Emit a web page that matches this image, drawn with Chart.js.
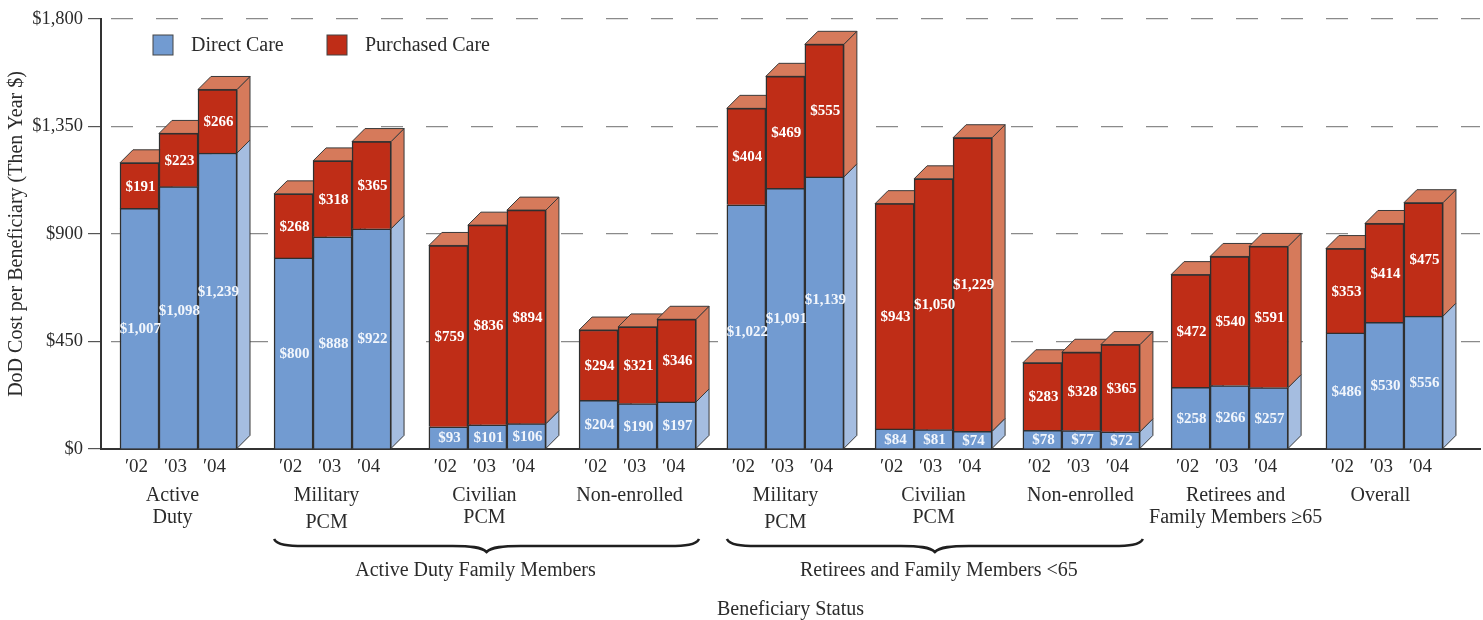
<!DOCTYPE html>
<html>
<head>
<meta charset="utf-8">
<title>DoD Cost per Beneficiary</title>
<script src="https://cdn.jsdelivr.net/npm/chart.js@4/dist/chart.umd.min.js"></script>
<style>
    html, body { margin: 0; padding: 0; background: #fff; }
    canvas { display: block; }
</style>
</head>
<body>
<canvas id="costChart" width="1483" height="620"></canvas>
<script>
// Values, three years per beneficiary group
const years = ['\u203202', '\u203203', '\u203204'];
const groupNames = [
    ['Active', 'Duty'],
    ['Military', 'PCM'],
    ['Civilian', 'PCM'],
    ['Non-enrolled'],
    ['Military', 'PCM'],
    ['Civilian', 'PCM'],
    ['Non-enrolled'],
    ['Retirees and', 'Family Members \u226565'],
    ['Overall']
];
const directCare = [1007, 1098, 1239, 800, 888, 922, 93, 101, 106, 204, 190, 197, 1022, 1091, 1139, 84, 81, 74, 78, 77, 72, 258, 266, 257, 486, 530, 556];
const purchasedCare = [191, 223, 266, 268, 318, 365, 759, 836, 894, 294, 321, 346, 404, 469, 555, 943, 1050, 1229, 283, 328, 365, 472, 540, 591, 353, 414, 475];
// Empty space after each group, measured in bar widths
const groupGaps = [0.95, 0.97, 0.85, 0.79, 0.8, 0.79, 0.8, 0.97];
const yTicks = [0, 450, 900, 1350, 1800];
const braces = [
    { label: 'Active Duty Family Members', from: 1, to: 3, labelShift: -11 },
    { label: 'Retirees and Family Members <65', from: 4, to: 6, labelShift: 4 }
];

const SERIF = '"Liberation Serif", serif';
const INK = '#2b2b2b';
const DEPTH = 13;
// The source hand-placed some text: pixels off the centred position
const groupNameShift = [-6, -6, -3, -8, 0, 0, -1, 6, -4];
const directLabelShift = { 1: -7, 2: -10, 12: 4, 14: -14 };

// Bar centres on the linear x axis: one unit per bar plus the group gaps
const barX = [];
let cursor = 0;
directCare.forEach((v, i) => {
    barX.push(cursor);
    cursor += 1;
    if (i % 3 === 2 && groupGaps[(i - 2) / 3] !== undefined) cursor += groupGaps[(i - 2) / 3];
});

const pairUp = values => values.map((y, i) => ({ x: barX[i], y: y }));

function face(ctx, points, fill) {
    ctx.beginPath();
    points.forEach((p, i) => (i ? ctx.lineTo(p[0], p[1]) : ctx.moveTo(p[0], p[1])));
    ctx.closePath();
    ctx.fillStyle = fill;
    ctx.fill();
    ctx.lineWidth = 1;
    ctx.strokeStyle = '#3a3a3a';
    ctx.stroke();
}

// Side and top faces behind the library's bars
const depthFaces = {
    id: 'depthFaces',
    beforeDatasetsDraw(chart) {
        const ctx = chart.ctx;
        const blue = chart.getDatasetMeta(0).data;
        const red = chart.getDatasetMeta(1).data;
        ctx.save();
        blue.forEach((b, i) => {
            const r = red[i];
            const right = b.x + b.width / 2;
            const left = b.x - b.width / 2;
            face(ctx, [[right, b.base], [right + DEPTH, b.base - DEPTH], [right + DEPTH, b.y - DEPTH], [right, b.y]], '#a5bde0');
            face(ctx, [[right, b.y], [right + DEPTH, b.y - DEPTH], [right + DEPTH, r.y - DEPTH], [right, r.y]], '#d67a5b');
            face(ctx, [[left, r.y], [left + DEPTH, r.y - DEPTH], [right + DEPTH, r.y - DEPTH], [right, r.y]], '#d67a5b');
        });
        ctx.restore();
    }
};

const valueLabels = {
    id: 'valueLabels',
    afterDatasetsDraw(chart) {
        const ctx = chart.ctx;
        ctx.save();
        ctx.textAlign = 'center';
        ctx.textBaseline = 'middle';
        ctx.font = 'bold 15px ' + SERIF;
        chart.data.datasets.forEach((ds, d) => {
            ctx.fillStyle = d === 0 ? '#f2f6fc' : '#ffffff';
            chart.getDatasetMeta(d).data.forEach((bar, i) => {
                const nudge = d === 0 ? (directLabelShift[i] || 0) : 0;
                ctx.fillText('$' + ds.data[i].y.toLocaleString('en-US'), bar.x + 1, (bar.y + bar.base) / 2 + nudge + 1);
            });
        });
        ctx.restore();
    }
};

function drawBrace(ctx, x0, x1, y) {
    const mid = (x0 + x1) / 2;
    ctx.beginPath();
    ctx.moveTo(x0, y);
    ctx.bezierCurveTo(x0 + 3, y + 6, x0 + 14, y + 7, x0 + 30, y + 7);
    ctx.lineTo(mid - 34, y + 7);
    ctx.bezierCurveTo(mid - 16, y + 7, mid - 5, y + 8, mid, y + 13);
    ctx.bezierCurveTo(mid + 5, y + 8, mid + 16, y + 7, mid + 34, y + 7);
    ctx.lineTo(x1 - 30, y + 7);
    ctx.bezierCurveTo(x1 - 14, y + 7, x1 - 3, y + 6, x1, y);
    ctx.lineWidth = 2.6;
    ctx.strokeStyle = '#1f1f1f';
    ctx.stroke();
}

// Group names, braces and the legend keys
const annotations = {
    id: 'annotations',
    afterDraw(chart) {
        const ctx = chart.ctx;
        const x = chart.scales.x;
        const unit = x.getPixelForValue(1) - x.getPixelForValue(0);
        ctx.save();
        ctx.fillStyle = INK;
        ctx.textBaseline = 'middle';
        ctx.textAlign = 'center';
        ctx.font = '20px ' + SERIF;

        groupNames.forEach((lines, g) => {
            const cx = x.getPixelForValue(barX[g * 3 + 1]) + groupNameShift[g];
            // the two Military PCM labels sit looser in the source
            const leading = lines[0] === 'Military' ? 27 : 22;
            lines.forEach((line, l) => ctx.fillText(line, cx, 496 + l * leading));
        });

        braces.forEach(b => {
            const x0 = x.getPixelForValue(barX[b.from * 3]) - unit / 2;
            const x1 = x.getPixelForValue(barX[b.to * 3 + 2]) + unit / 2 + 3;
            drawBrace(ctx, x0, x1, 539);
            ctx.fillStyle = INK;
            ctx.fillText(b.label, (x0 + x1) / 2 + b.labelShift, 571);
        });

        ctx.textAlign = 'left';
        let keyX = 153;
        chart.data.datasets.forEach(ds => {
            ctx.fillStyle = ds.backgroundColor;
            ctx.fillRect(keyX, 35, 20, 20);
            ctx.lineWidth = 1;
            ctx.strokeStyle = '#444';
            ctx.strokeRect(keyX, 35, 20, 20);
            ctx.fillStyle = INK;
            ctx.fillText(ds.label, keyX + 38, 46);
            keyX += 174;
        });
        ctx.restore();
    }
};

new Chart(document.getElementById('costChart'), {
    type: 'bar',
    data: {
        datasets: [
            { label: 'Direct Care', data: pairUp(directCare), backgroundColor: '#729bd1', borderColor: '#2f2f2f', borderWidth: 1.5 },
            { label: 'Purchased Care', data: pairUp(purchasedCare), backgroundColor: '#bf2d17', borderColor: '#2f2f2f', borderWidth: 1.5 }
        ]
    },
    plugins: [depthFaces, valueLabels, annotations],
    options: {
        responsive: false,
        animation: false,
        layout: { padding: { top: 19, right: 3, left: 0, bottom: 0 } },
        barPercentage: 1,
        categoryPercentage: 1,
        plugins: { legend: { display: false }, tooltip: { enabled: false } },
        scales: {
            x: {
                type: 'linear',
                stacked: true,
                offset: false,
                min: -0.987,
                max: 34.37,
                afterFit(scale) { scale.height = 171; },
                afterBuildTicks(scale) { scale.ticks = barX.map(v => ({ value: v })); },
                grid: { display: false, offset: false },
                border: { color: '#333', width: 2 },
                ticks: {
                    autoSkip: false,
                    maxRotation: 0,
                    padding: -1,
                    labelOffset: -3,
                    color: INK,
                    font: { family: SERIF, size: 19 },
                    callback(value, index) { return years[index % 3]; }
                },
                title: {
                    display: true,
                    text: 'Beneficiary Status',
                    color: INK,
                    font: { family: SERIF, size: 20 },
                    padding: { top: 0, bottom: -2 }
                }
            },
            y: {
                stacked: true,
                min: 0,
                max: 1800,
                afterFit(scale) { scale.width = 101; },
                afterBuildTicks(scale) { scale.ticks = yTicks.map(v => ({ value: v })); },
                grid: {
                    color: '#8a8a8a',
                    lineWidth: 1.2,
                    tickLength: 13,
                    tickColor: '#555',
                    tickBorderDash: []
                },
                border: { color: '#333', width: 2, dash: [22, 23], dashOffset: 36 },
                ticks: {
                    padding: 5,
                    color: INK,
                    font: { family: SERIF, size: 18.5 },
                    callback(value) { return '$' + value.toLocaleString('en-US'); }
                },
                title: {
                    display: true,
                    text: 'DoD Cost per Beneficiary (Then Year $)',
                    color: INK,
                    font: { family: SERIF, size: 20 },
                    padding: { top: 5, bottom: 0 }
                }
            }
        }
    }
});
</script>
</body>
</html>
